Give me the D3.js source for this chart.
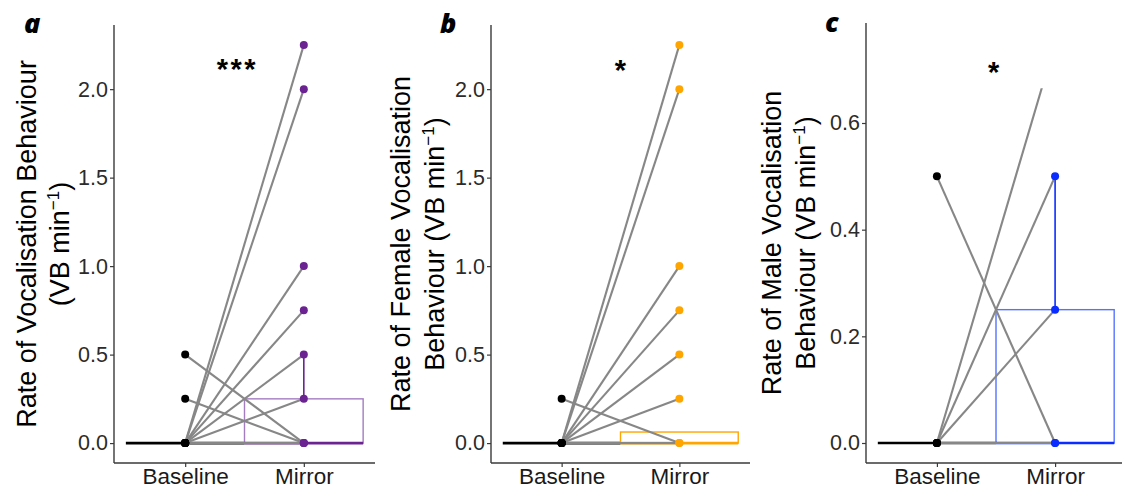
<!DOCTYPE html>
<html>
<head>
<meta charset="utf-8">
<script src="https://cdn.jsdelivr.net/npm/d3@7"></script>
<style>
  html, body { margin: 0; padding: 0; background: #fff; }
  svg { display: block; }
</style>
</head>
<body>
<svg id="chart" width="1122" height="489"></svg>
<script>
// ---- data -------------------------------------------------------------
const categories = ["Baseline", "Mirror"];
const panelLetters = ["a", "b", "c"];
const sigLabels = ["***", "*", "*"];

// paired rates (VB per minute): each individual's baseline value and mirror value
const allBaseline    = [0, 0, 0, 0, 0, 0, 0.5, 0.25, 0];
const allMirror      = [2.25, 2.0, 1.0, 0.75, 0.5, 0.25, 0, 0, 0];
const femaleBaseline = [0, 0, 0, 0, 0, 0, 0.25, 0];
const femaleMirror   = [2.25, 2.0, 1.0, 0.75, 0.5, 0.25, 0, 0];
const maleBaseline   = [0.5, 0, 0, 0, 0];
const maleMirror     = [0, 0.5, 0.25, 0.75, 0];

// box summaries per condition: [Baseline, Mirror]
const allQ1 = [0, 0],    allMedian = [0, 0],    allQ3 = [0, 0.25],     allWhiskerHi = [0, 0.5];
const femaleQ1 = [0, 0], femaleMedian = [0, 0], femaleQ3 = [0, 0.0625], femaleWhiskerHi = [0, 0.0625];
const maleQ1 = [0, 0],   maleMedian = [0, 0],   maleQ3 = [0, 0.25],    maleWhiskerHi = [0, 0.5];

// axis ticks and ranges
const rateTicksWide = [0, 0.5, 1.0, 1.5, 2.0];
const rateTicksNarrow = [0, 0.2, 0.4, 0.6];
const allRange = [0, 2.25];
const femaleRange = [0, 2.25];
const maleRange = [0, 0.75];
const maleLineCeiling = 0.665;

// axis titles ("{unit}" is replaced by VB min^-1)
const allTitle = ["Rate of Vocalisation Behaviour", "{unit}"];
const femaleTitle = ["Rate of Female Vocalisation", "Behaviour {unit}"];
const maleTitle = ["Rate of Male Vocalisation", "Behaviour {unit}"];

// ---- drawing ----------------------------------------------------------
const svg = d3.select("#chart");
const FONT = "'Liberation Sans', Arial, Helvetica, sans-serif";
const GREY_LINE = "#878787";
const AXIS = "#3a3a3a";

const panels = [
  { base: allBaseline, mirror: allMirror, q1: allQ1, med: allMedian, q3: allQ3, hi: allWhiskerHi,
    range: allRange, ticks: rateTicksWide, title: allTitle,
    colour: "#6a2391", boxColour: "#a47cc2",
    frame: { left: 114, right: 375, top: 25, bottom: 463 },
    titleX: [36, 69], letterX: 24, letterY: 33, sigX: 1.44, sigY: 2.06, ceiling: null },
  { base: femaleBaseline, mirror: femaleMirror, q1: femaleQ1, med: femaleMedian, q3: femaleQ3, hi: femaleWhiskerHi,
    range: femaleRange, ticks: rateTicksWide, title: femaleTitle,
    colour: "#ffa500", boxColour: "#ffa500",
    frame: { left: 491, right: 750, top: 25, bottom: 463 },
    titleX: [410, 444], letterX: 440, letterY: 33, sigX: 1.5, sigY: 2.05, ceiling: null },
  { base: maleBaseline, mirror: maleMirror, q1: maleQ1, med: maleMedian, q3: maleQ3, hi: maleWhiskerHi,
    range: maleRange, ticks: rateTicksNarrow, title: maleTitle,
    colour: "#0a2cff", boxColour: "#5573ff",
    frame: { left: 866, right: 1126, top: 23, bottom: 463 },
    titleX: [781, 815], letterX: 825, letterY: 32, sigX: 1.48, sigY: 0.676, ceiling: maleLineCeiling }
];

panels.forEach((p, i) => {
  const f = p.frame;
  const g = svg.append("g");

  // ggplot-style 5% expansion of the continuous axis; discrete axis spans 0.4..2.6
  const span = p.range[1] - p.range[0];
  const y = d3.scaleLinear()
    .domain([p.range[0] - 0.05 * span, p.range[1] + 0.05 * span])
    .range([f.bottom, f.top]);
  const x = d3.scaleLinear().domain([0.4, 2.6]).range([f.left, f.right]);
  const xPos = c => x(categories.indexOf(c) + 1);

  // clip region for the paired lines
  const clipId = "clip" + i;
  const clipTop = p.ceiling == null ? f.top - 30 : y(p.ceiling);
  svg.append("clipPath").attr("id", clipId)
    .append("rect")
    .attr("x", f.left).attr("y", clipTop)
    .attr("width", f.right - f.left).attr("height", f.bottom - clipTop);

  // boxes
  categories.forEach((c, k) => {
    const cx = k + 1;
    const colour = k === 0 ? "#000" : p.colour;
    const boxColour = k === 0 ? "#000" : p.boxColour;
    const x0 = x(cx - 0.5), x1 = x(cx + 0.5);
    // whisker
    if (p.hi[k] > p.q3[k]) {
      g.append("line")
        .attr("x1", x(cx)).attr("x2", x(cx))
        .attr("y1", y(p.q3[k])).attr("y2", y(p.hi[k]))
        .attr("stroke", colour).attr("stroke-width", 1.6);
    }
    // box body
    g.append("rect")
      .attr("x", x0).attr("y", y(p.q3[k]))
      .attr("width", x1 - x0)
      .attr("height", Math.max(0, y(p.q1[k]) - y(p.q3[k])))
      .attr("fill", "none")
      .attr("stroke", boxColour)
      .attr("stroke-width", 1.4);
    // median
    g.append("line")
      .attr("x1", x0).attr("x2", x1)
      .attr("y1", y(p.med[k])).attr("y2", y(p.med[k]))
      .attr("stroke", colour).attr("stroke-width", 2.6);
  });

  // paired lines
  const lineGroup = g.append("g").attr("clip-path", `url(#${clipId})`);
  p.base.forEach((b, j) => {
    lineGroup.append("line")
      .attr("x1", xPos("Baseline")).attr("y1", y(b))
      .attr("x2", xPos("Mirror")).attr("y2", y(p.mirror[j]))
      .attr("stroke", GREY_LINE).attr("stroke-width", 2.1);
  });

  // points
  const limit = p.ceiling == null ? Infinity : p.ceiling;
  const pts = [];
  p.base.forEach(v => pts.push({ c: "Baseline", v }));
  p.mirror.forEach(v => pts.push({ c: "Mirror", v }));
  g.selectAll("circle.pt")
    .data(pts.filter(d => d.v <= limit))
    .join("circle")
    .attr("class", "pt")
    .attr("cx", d => xPos(d.c))
    .attr("cy", d => y(d.v))
    .attr("r", 4)
    .attr("fill", d => d.c === "Baseline" ? "#000" : p.colour);

  // y axis
  const yAxis = d3.axisLeft(y).tickValues(p.ticks).tickFormat(d3.format(".1f"))
    .tickSize(4).tickPadding(2);
  const ya = g.append("g").attr("transform", `translate(${f.left},0)`).call(yAxis);
  ya.select(".domain").attr("d", `M0,${f.top}V${f.bottom}`).attr("stroke", AXIS).attr("stroke-width", 1.4);
  ya.selectAll(".tick line").attr("stroke", AXIS).attr("stroke-width", 1.2);
  ya.selectAll(".tick text").attr("font-family", FONT).attr("font-size", 21.5).attr("fill", "#2b2b2b");

  // x axis
  const xAxis = d3.axisBottom(x).tickValues([1, 2]).tickFormat(d => categories[d - 1])
    .tickSize(4).tickPadding(1);
  const xa = g.append("g").attr("transform", `translate(0,${f.bottom})`).call(xAxis);
  xa.select(".domain").attr("d", `M${f.left},0H${f.right}`).attr("stroke", AXIS).attr("stroke-width", 1.4);
  xa.selectAll(".tick line").attr("stroke", AXIS).attr("stroke-width", 1.2);
  xa.selectAll(".tick text").attr("font-family", FONT).attr("font-size", 22.5).attr("fill", "#1a1a1a");

  // y axis title (two lines, rotated)
  const midY = (f.top + f.bottom) / 2;
  p.title.forEach((line, li) => {
    const t = g.append("text")
      .attr("transform", `translate(${p.titleX[li]},${midY}) rotate(-90)`)
      .attr("text-anchor", "middle")
      .attr("font-family", FONT).attr("font-size", 27).attr("fill", "#000");
    if (line.includes("{unit}")) {
      const before = line.replace("{unit}", "");
      t.append("tspan").text(before + "(VB min");
      t.append("tspan").attr("dy", -10).attr("font-size", 17).text("−1");
      t.append("tspan").attr("dy", 10).text(")");
    } else {
      t.text(line);
    }
  });

  // significance marker
  g.append("text")
    .attr("x", x(p.sigX)).attr("y", y(p.sigY))
    .attr("text-anchor", "middle")
    .attr("font-family", FONT).attr("font-weight", "bold").attr("font-size", 29)
    .attr("letter-spacing", sigLabels[i].length > 1 ? 2.5 : 0)
    .attr("fill", "#000")
    .text(sigLabels[i]);

  // panel letter
  svg.append("text")
    .attr("x", p.letterX).attr("y", p.letterY)
    .attr("font-family", "'Open Sans', 'DejaVu Sans', sans-serif")
    .attr("font-weight", 800).attr("font-style", "italic").attr("font-size", 27)
    .attr("fill", "#000")
    .text(panelLetters[i]);
});
</script>
</body>
</html>
